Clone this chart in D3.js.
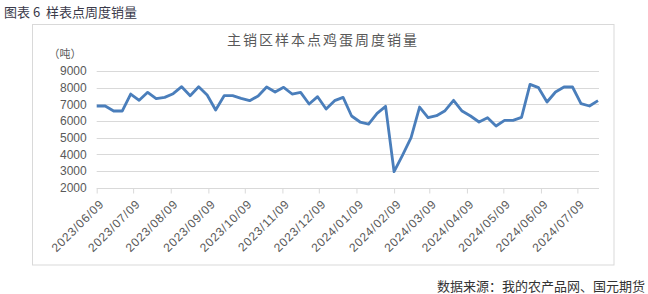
<!DOCTYPE html>
<html><head><meta charset="utf-8">
<script src="https://cdn.jsdelivr.net/npm/d3@7"></script>
<style>
html,body{margin:0;padding:0;background:#fff;}
svg{display:block;}
text{white-space:pre;}
</style>
</head><body>
<svg id="c" width="648" height="294"></svg>
<script>
const startDate = "2023-06-09";
const values = [6900,6900,6600,6600,7620,7240,7720,7340,7420,7640,
  8060,7520,8060,7560,6660,7520,7520,7360,7220,7500,
  8040,7740,8020,7620,7720,7020,7460,6720,7220,7420,
  6300,5940,5820,6460,6880,2960,3960,5000,6840,6200,
  6320,6620,7240,6600,6300,5940,6200,5700,6040,6040,
  6220,8200,8000,7140,7740,8040,8040,7040,6900,7220];
const tickLabels = ["2023/06/09","2023/07/09","2023/08/09","2023/09/09","2023/10/09","2023/11/09","2023/12/09",
  "2024/01/09","2024/02/09","2024/03/09","2024/04/09","2024/05/09","2024/06/09","2024/07/09"];
const yTicks = [2000,3000,4000,5000,6000,7000,8000,9000];
const figTitle = "图表 6  样表点周度销量";
const chartTitle = "主销区样本点鸡蛋周度销量";
const unitLabel = "（吨）";
const sourceText = "数据来源：我的农产品网、国元期货";

(function(){
const parse = d3.timeParse("%Y-%m-%d");
const parseTick = d3.timeParse("%Y/%m/%d");
const d0 = parse(startDate);
const data = values.map((v,i)=>({date:d3.timeDay.offset(d0, i*7), v}));

const svg = d3.select("#c");
const pL = 96.7, pR = 598, pT = 71, pB = 187.7;
const x = d3.scaleTime().domain([data[0].date, data[data.length-1].date]).range([pL, pR]);
const y = d3.scaleLinear().domain([2000, 9000]).range([pB, pT]);

svg.append("text").attr("x",4).attr("y",17).attr("font-family","'Noto Sans CJK SC'")
  .attr("font-size",13).attr("fill","#3a3a4a").text(figTitle);

svg.append("rect").attr("x",32.5).attr("y",24.5).attr("width",581.5).attr("height",240.5)
  .attr("fill","#fff").attr("stroke","#d9d9d9").attr("stroke-width",1);

svg.append("text").attr("x",323).attr("y",45).attr("text-anchor","middle")
  .attr("font-family","'Noto Sans CJK SC'").attr("font-size",14).attr("letter-spacing",2)
  .attr("fill","#595959").text(chartTitle);

svg.append("text").attr("x",65).attr("y",58).attr("text-anchor","middle")
  .attr("font-family","'Noto Sans CJK SC'").attr("font-size",11).attr("fill","#595959").text(unitLabel);

svg.append("g").selectAll("line").data(yTicks.filter(t=>t>2000)).join("line")
  .attr("x1",pL).attr("x2",pR+1).attr("y1",d=>Math.round(y(d))+0.5).attr("y2",d=>Math.round(y(d))+0.5)
  .attr("stroke","#d9d9d9").attr("stroke-width",1);

const yAxis = d3.axisLeft(y).tickValues(yTicks).tickSize(0).tickPadding(10).tickFormat(d3.format("d"));
const gy = svg.append("g").attr("transform",`translate(${pL},0)`).call(yAxis);
gy.select(".domain").remove();
gy.selectAll("text").attr("font-family","'Liberation Sans', Arial").attr("font-size",12).attr("fill","#595959");

const tickDates = tickLabels.map(parseTick);
const xAxis = d3.axisBottom(x).tickValues(tickDates).tickSize(5).tickFormat("");
const gx = svg.append("g").attr("transform",`translate(0,${Math.round(pB)+0.5})`).call(xAxis);
gx.select(".domain").attr("d",`M${pL},0H${pR+1}`).attr("stroke","#d9d9d9");
gx.selectAll(".tick line").attr("stroke","#d9d9d9");

svg.append("g").selectAll("text").data(tickDates).join("text")
  .attr("transform",(d)=>`translate(${x(d)+5},${pB+14}) rotate(-45)`)
  .attr("text-anchor","end").attr("dy","0.35em")
  .attr("font-family","'Liberation Sans', Arial").attr("font-size",12).attr("letter-spacing",0.8)
  .attr("fill","#595959").text((d,i)=>tickLabels[i]);

const line = d3.line().x(d=>x(d.date)).y(d=>y(d.v));
svg.append("path").datum(data).attr("d",line).attr("fill","none")
  .attr("stroke","#4a7ebb").attr("stroke-width",2.8).attr("stroke-linejoin","round");

svg.append("text").attr("x",645).attr("y",291).attr("text-anchor","end")
  .attr("font-family","'Noto Sans CJK SC'").attr("font-size",13).attr("fill","#333").text(sourceText);
})();
</script>
</body></html>
